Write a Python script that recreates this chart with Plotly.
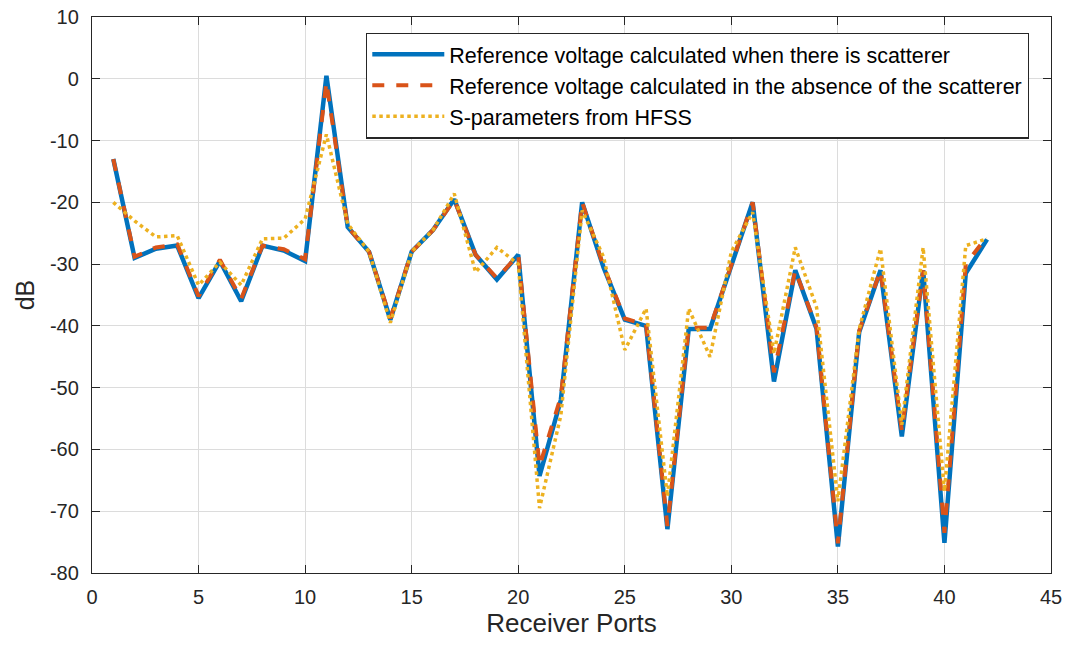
import plotly.graph_objects as go

ports = list(range(1, 43))

with_scatterer = [-13, -29, -27.5, -27, -35.5, -29.5, -36, -27, -27.8, -29.5,
                  0.5, -24, -28, -39, -28, -24.5, -19.5, -28.5, -32.5, -28.5,
                  -64.3, -52, -20, -30.5, -39, -40, -72.9, -40.5, -40.5, -30,
                  -20, -49, -31, -40.5, -75.7, -41, -31, -57.9, -31, -75.1,
                  -31.5, -26]

without_scatterer = [-13, -28.8, -27.3, -26.8, -35.2, -29.3, -35.6, -27, -27.6, -29.2,
                     -0.5, -24, -28, -38.8, -28, -24.5, -19.6, -28.5, -32.3, -28.5,
                     -62.7, -51.5, -20, -30.3, -38.8, -39.8, -72.4, -40.3, -40.3, -30,
                     -20, -47.5, -31, -40.3, -75.2, -40.8, -31, -57, -31, -73.5,
                     -30, -25.5]

hfss = [-20, -23, -25.6, -25.4, -33.4, -29.7, -33.4, -25.9, -25.8, -22.7,
        -9, -23.5, -28, -39.5, -28, -24.5, -18.6, -31.3, -27.3, -30,
        -69.5, -54.5, -21.3, -28.8, -43.9, -37.2, -67.6, -37.2, -45, -28,
        -21.6, -44.5, -27.3, -37, -68.4, -40.5, -27.5, -56, -27.3, -66.8,
        -27, -25.9]

names = ["Reference voltage calculated when there is scatterer",
         "Reference voltage calculated in the absence of the scatterer",
         "S-parameters from HFSS"]

x_ticks = list(range(0, 46, 5))
x_ticktext = [str(v) for v in x_ticks]
y_ticks = list(range(-80, 11, 10))
y_ticktext = [str(v) for v in y_ticks]

fig = go.Figure()
fig.add_trace(go.Scatter(x=ports, y=with_scatterer, mode="lines", name=names[0],
                         legendgroup="a",
                         line=dict(color="#0072BD", width=4.5)))
fig.add_trace(go.Scatter(x=ports, y=without_scatterer, mode="lines", name=names[1],
                         legendgroup="b",
                         line=dict(color="#D95319", width=4, dash="dash")))
fig.add_trace(go.Scatter(x=ports, y=hfss, mode="lines", name=names[2],
                         legendgroup="c",
                         line=dict(color="#EDB120", width=3.5, dash="dot")))

font_family = "Liberation Sans, Arial, sans-serif"

axis_common = dict(
    showgrid=True, gridcolor="#DCDCDC", gridwidth=1,
    showline=True, linecolor="#262626", linewidth=1.3, mirror="ticks",
    ticks="inside", ticklen=8, tickcolor="#262626",
    zeroline=False, automargin=False,
    tickfont=dict(family=font_family, size=20, color="#262626"),
)

fig.update_layout(
    width=1074, height=647,
    margin=dict(l=92, r=23, t=17, b=74),
    paper_bgcolor="white", plot_bgcolor="white",
    font=dict(family=font_family, color="#262626"),
    xaxis=dict(range=[0, 45], tickvals=x_ticks, ticktext=x_ticktext,
               ticklabelstandoff=6,
               title=dict(text="Receiver Ports", font=dict(size=26), standoff=6),
               **axis_common),
    yaxis=dict(range=[-80, 10], tickvals=y_ticks, ticktext=y_ticktext,
               ticklabelstandoff=8,
               title=dict(text="dB", font=dict(size=25), standoff=8),
               **axis_common),
    legend=dict(x=0.2857, y=0.972, xanchor="left", yanchor="top",
                bgcolor="white", bordercolor="#262626", borderwidth=1.3,
                font=dict(size=21.5, color="#000000"),
                tracegroupgap=0, itemwidth=72),
    showlegend=True,
)

fig.write_html("out.html")
